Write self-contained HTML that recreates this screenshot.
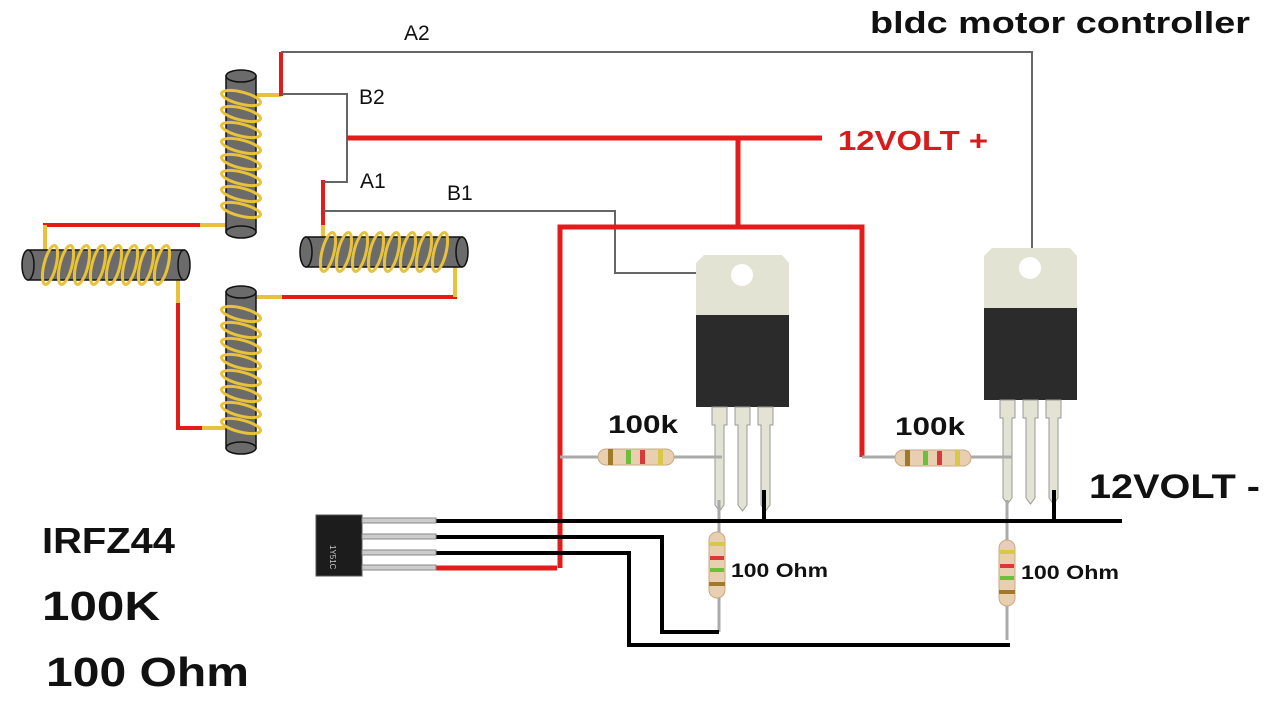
<!DOCTYPE html>
<html><head><meta charset="utf-8"><style>
html,body{margin:0;padding:0;background:#fff}
svg{display:block}
text{font-family:"Liberation Sans","DejaVu Sans",sans-serif}
</style></head><body>
<svg width="1280" height="720" viewBox="0 0 1280 720" xmlns="http://www.w3.org/2000/svg">
<defs>
<g id="coil">
  <rect x="-15" y="4" width="30" height="156" fill="#6b6b6b" stroke="#111" stroke-width="1.5"/>
  <ellipse cx="0" cy="160" rx="15" ry="6" fill="#6b6b6b" stroke="#111" stroke-width="1.5"/>
  <ellipse cx="0" cy="4" rx="15" ry="6" fill="#6b6b6b" stroke="#111" stroke-width="1.5"/>
  <g fill="none" stroke="#e8c23a" stroke-width="3">
    <ellipse cx="0" cy="26" rx="20" ry="6" transform="rotate(14 0 26)"/>
    <ellipse cx="0" cy="42" rx="20" ry="6" transform="rotate(14 0 42)"/>
    <ellipse cx="0" cy="58" rx="20" ry="6" transform="rotate(14 0 58)"/>
    <ellipse cx="0" cy="74" rx="20" ry="6" transform="rotate(14 0 74)"/>
    <ellipse cx="0" cy="90" rx="20" ry="6" transform="rotate(14 0 90)"/>
    <ellipse cx="0" cy="106" rx="20" ry="6" transform="rotate(14 0 106)"/>
    <ellipse cx="0" cy="122" rx="20" ry="6" transform="rotate(14 0 122)"/>
    <ellipse cx="0" cy="138" rx="20" ry="6" transform="rotate(14 0 138)"/>
  </g>
</g>
<g id="resH">
  <rect x="0" y="-8" width="76" height="16" rx="8" fill="#e8cfb0" stroke="#c9a886"/>
  <rect x="10" y="-8" width="5" height="16" fill="#a07a2a"/>
  <rect x="28" y="-7" width="5" height="14" fill="#6cbf3a"/>
  <rect x="42" y="-7" width="5" height="14" fill="#d83a3a"/>
  <rect x="60" y="-8" width="5" height="16" fill="#d8c84a"/>
</g>
<g id="resV">
  <rect x="-8" y="0" width="16" height="66" rx="8" fill="#e8cfb0" stroke="#c9a886"/>
  <rect x="-8" y="10" width="16" height="4" fill="#d8c84a"/>
  <rect x="-7" y="24" width="14" height="4" fill="#d83a3a"/>
  <rect x="-7" y="36" width="14" height="4" fill="#6cbf3a"/>
  <rect x="-8" y="50" width="16" height="4" fill="#a07a2a"/>
</g>
<g id="fet">
  <path d="M0 8 L8 0 L86 0 L93 8 L93 60 L0 60 Z" fill="#e3e3d3"/>
  <circle cx="46" cy="20" r="11" fill="#fff"/>
  <rect x="0" y="60" width="93" height="92" fill="#2b2b2b"/>
  <g fill="#e3e3d3" stroke="#999" stroke-width="1">
    <path d="M16 152 h15 v18 h-3 v80 l-4.5 6 l-4.5 -6 v-80 h-3z"/>
    <path d="M39 152 h15 v18 h-3 v80 l-4.5 6 l-4.5 -6 v-80 h-3z"/>
    <path d="M62 152 h15 v18 h-3 v80 l-4.5 6 l-4.5 -6 v-80 h-3z"/>
  </g>
</g>
</defs>

<g fill="none" stroke-linecap="butt">
  <path d="M256 95 H281" stroke="#e8c23a" stroke-width="4"/>
  <path d="M281 52 V96" stroke="#e31b1b" stroke-width="4"/>
  <path d="M43 225 H200" stroke="#e31b1b" stroke-width="4"/>
  <path d="M200 225 H228" stroke="#e8c23a" stroke-width="4"/>
  <path d="M45 225 V252" stroke="#e8c23a" stroke-width="4"/>
  <path d="M178 278 V303" stroke="#e8c23a" stroke-width="4"/>
  <path d="M178 303 V428 H202" stroke="#e31b1b" stroke-width="4"/>
  <path d="M202 428 H228" stroke="#e8c23a" stroke-width="4"/>
  <path d="M256 297 H282" stroke="#e8c23a" stroke-width="4"/>
  <path d="M282 297 H457" stroke="#e31b1b" stroke-width="4"/>
  <path d="M455 266 V297" stroke="#e8c23a" stroke-width="4"/>
  <path d="M323 224 V238" stroke="#e8c23a" stroke-width="4"/>
  <path d="M323 180 V225" stroke="#e31b1b" stroke-width="4"/>
</g>

<use href="#coil" transform="translate(241,72)"/>
<use href="#coil" transform="translate(241,288)"/>
<use href="#coil" transform="translate(188,265) rotate(90)"/>
<use href="#coil" transform="translate(466,252) rotate(90)"/>

<g fill="none" stroke="#666" stroke-width="2">
  <path d="M281 52 H1032 V250"/>
  <path d="M282 94 H347 V182 H324"/>
  <path d="M324 211 H615 V273 H714"/>
</g>

<g fill="none" stroke="#e31b1b" stroke-width="5">
  <path d="M347 138 H822"/>
  <path d="M738 138 V227"/>
  <path d="M560 568 V227 H862 V457"/>
  <path d="M435 568 H557"/>
</g>

<use href="#fet" transform="translate(696,255)"/>
<use href="#fet" transform="translate(984,248)"/>

<g fill="none" stroke="#aaa" stroke-width="3">
  <path d="M560 457 H722"/>
  <path d="M862 457 H1012"/>
  <path d="M719 500 V632"/>
  <path d="M1007 500 V640"/>
</g>
<use href="#resH" transform="translate(598,457)"/>
<use href="#resH" transform="translate(895,458)"/>
<use href="#resV" transform="translate(717,532)"/>
<use href="#resV" transform="translate(1007,540)"/>

<g fill="none" stroke="#000" stroke-width="4">
  <path d="M435 521 H1122"/>
  <path d="M764 490 V521"/>
  <path d="M1054 490 V521"/>
  <path d="M435 537 H662 V632 H719"/>
  <path d="M435 553 H629 V645 H1010"/>
</g>

<rect x="316" y="515" width="46" height="61" fill="#1c1c1c" stroke="#555"/>
<g fill="#ccc" stroke="#888">
  <rect x="362" y="518" width="74" height="5"/>
  <rect x="362" y="534" width="74" height="5"/>
  <rect x="362" y="550" width="74" height="5"/>
  <rect x="362" y="565" width="74" height="5"/>
</g>
<text x="330" y="545" font-size="8" fill="#ccc" transform="rotate(90 330 545)">1Y51C</text>

<g lengthAdjust="spacingAndGlyphs">
<text x="870" y="33" font-size="31" font-weight="bold" fill="#111" textLength="380" lengthAdjust="spacingAndGlyphs">bldc motor controller</text>
<text x="838" y="150" font-size="28" font-weight="bold" fill="#d81b1b" textLength="150" lengthAdjust="spacingAndGlyphs">12VOLT +</text>
<text x="1089" y="498" font-size="34" font-weight="bold" fill="#111" textLength="171" lengthAdjust="spacingAndGlyphs">12VOLT -</text>
<text x="404" y="40" font-size="21" fill="#111">A2</text>
<text x="359" y="104" font-size="21" fill="#111">B2</text>
<text x="360" y="188" font-size="21" fill="#111">A1</text>
<text x="447" y="200" font-size="21" fill="#111">B1</text>
<text x="608" y="433" font-size="25" font-weight="bold" fill="#111" textLength="70" lengthAdjust="spacingAndGlyphs">100k</text>
<text x="895" y="435" font-size="25" font-weight="bold" fill="#111" textLength="70" lengthAdjust="spacingAndGlyphs">100k</text>
<text x="731" y="577" font-size="19" font-weight="bold" fill="#111" textLength="97" lengthAdjust="spacingAndGlyphs">100 Ohm</text>
<text x="1021" y="579" font-size="19" font-weight="bold" fill="#111" textLength="98" lengthAdjust="spacingAndGlyphs">100 Ohm</text>
<text x="42" y="553" font-size="36" font-weight="bold" fill="#111" textLength="133" lengthAdjust="spacingAndGlyphs">IRFZ44</text>
<text x="42" y="620" font-size="41" font-weight="bold" fill="#111" textLength="118" lengthAdjust="spacingAndGlyphs">100K</text>
<text x="46" y="686" font-size="41" font-weight="bold" fill="#111" textLength="203" lengthAdjust="spacingAndGlyphs">100 Ohm</text>
</g>
</svg>
</body></html>
